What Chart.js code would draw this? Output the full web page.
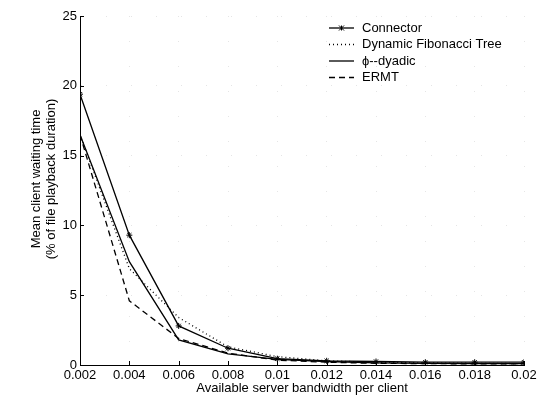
<!DOCTYPE html>
<html lang="en">
<head>
  <meta charset="UTF-8" />
  <title>Mean client waiting time</title>
  <script src="https://cdn.jsdelivr.net/npm/chart.js"></script>
  <style>
    body { margin: 0; background: #fff; }
    .wrap { width: 540px; height: 396px; position: relative; }
  </style>
</head>
<body>
<div class="wrap"><canvas id="chart"></canvas></div>
<script>
  // bandwidth per client (x) and waiting time in % of playback (y)
  const bandwidth = [0.002, 0.004, 0.006, 0.008, 0.01, 0.012, 0.014, 0.016, 0.018, 0.02];
  const connector = [19.4, 9.3, 2.8, 1.2, 0.45, 0.3, 0.25, 0.2, 0.2, 0.2];
  const fibonacci = [16.5, 6.9, 3.4, 1.3, 0.6, 0.3, 0.2, 0.15, 0.12, 0.1];
  const dyadic    = [16.5, 7.4, 1.8, 0.8, 0.4, 0.25, 0.15, 0.12, 0.1, 0.1];
  const ermt      = [16.5, 4.6, 1.9, 0.85, 0.35, 0.2, 0.12, 0.1, 0.08, 0.08];
  const yTicks = [0, 5, 10, 15, 20, 25];
  const yTitle = ['Mean client waiting time', '(% of file playback duration)'];

  const font = { family: '"Liberation Sans", Arial, sans-serif', size: 13 };
  const pts = arr => arr.map((v, i) => ({ x: bandwidth[i], y: v }));

  const series = [
    { label: 'Connector', data: pts(connector), borderDash: [], pointStyle: 'star', pointRadius: 3 },
    { label: 'Dynamic Fibonacci Tree', data: pts(fibonacci), borderDash: [1, 3], pointRadius: 0 },
    { label: '\u03d5--dyadic', data: pts(dyadic), borderDash: [], pointRadius: 0 },
    { label: 'ERMT', data: pts(ermt), borderDash: [6, 4], pointRadius: 0 }
  ];

  // inward tick marks + y title placed a bit above centre, like the original
  const tickMarks = {
    id: 'tickMarks',
    afterDraw(chart) {
      const { ctx, chartArea: a, scales: { x, y } } = chart;
      ctx.save();
      ctx.strokeStyle = '#000';
      ctx.lineWidth = 1;
      ctx.beginPath();
      bandwidth.forEach(v => {
        const px = Math.round(x.getPixelForValue(v)) + 0.5;
        ctx.moveTo(px, a.bottom); ctx.lineTo(px, a.bottom - 4);
      });
      yTicks.forEach(v => {
        const py = Math.round(y.getPixelForValue(v)) + 0.5;
        ctx.moveTo(a.left, py); ctx.lineTo(a.left + 4, py);
      });
      ctx.stroke();

      ctx.translate(36, 179);
      ctx.rotate(-Math.PI / 2);
      ctx.font = `${font.size}px ${font.family}`;
      ctx.fillStyle = '#000';
      ctx.textAlign = 'center';
      ctx.textBaseline = 'middle';
      yTitle.forEach((t, i) => ctx.fillText(t, 0, i * 15));
      ctx.restore();
    }
  };

  // legend drawn inside the plot, top right
  const innerLegend = {
    id: 'innerLegend',
    afterDraw(chart) {
      const ctx = chart.ctx;
      ctx.save();
      ctx.font = `${font.size}px ${font.family}`;
      ctx.textBaseline = 'middle';
      ctx.fillStyle = '#000';
      chart.data.datasets.forEach((ds, i) => {
        const yy = 28 + i * 16.5;
        ctx.strokeStyle = '#000';
        ctx.lineWidth = 1.3;
        ctx.setLineDash(ds.borderDash || []);
        ctx.beginPath();
        ctx.moveTo(329, yy); ctx.lineTo(354, yy);
        ctx.stroke();
        ctx.setLineDash([]);
        if (ds.pointStyle === 'star') {
          const r = 2.5, cx = 341.5;
          ctx.lineWidth = 1;
          ctx.beginPath();
          ctx.moveTo(cx - r, yy - r); ctx.lineTo(cx + r, yy + r);
          ctx.moveTo(cx - r, yy + r); ctx.lineTo(cx + r, yy - r);
          ctx.moveTo(cx, yy - r); ctx.lineTo(cx, yy + r);
          ctx.stroke();
        }
        ctx.fillText(ds.label, 362, yy);
      });
      ctx.restore();
    }
  };

  new Chart(document.getElementById('chart'), {
    type: 'line',
    data: {
      datasets: series.map(s => ({
        ...s,
        borderColor: '#000',
        backgroundColor: '#000',
        borderWidth: 1.3,
        pointBorderWidth: 1,
        fill: false,
        tension: 0
      }))
    },
    options: {
      responsive: true,
      maintainAspectRatio: false,
      animation: false,
      layout: { padding: { top: 16, right: 16, left: 0, bottom: 0 } },
      plugins: { legend: { display: false }, tooltip: { enabled: false } },
      scales: {
        x: {
          type: 'linear',
          min: 0.002,
          max: 0.02,
          afterBuildTicks: s => { s.ticks = bandwidth.map(v => ({ value: v })); },
          afterFit: s => { s.height = 31; },
          grid: { color: 'rgba(0,0,0,0.1)', drawTicks: false },
          border: { color: '#000', width: 1, dash: [1, 24] },
          ticks: {
            color: '#000', font, padding: 3, maxRotation: 0, autoSkip: false,
            callback: v => String(+v.toFixed(3))
          },
          title: {
            display: true, text: 'Available server bandwidth per client',
            color: '#000', font: { ...font, lineHeight: 1.15 }, padding: { top: 0, bottom: 0 }
          }
        },
        y: {
          min: 0,
          max: 25,
          afterBuildTicks: s => { s.ticks = yTicks.map(v => ({ value: v })); },
          afterFit: s => { s.width = 80; },
          grid: { color: 'rgba(0,0,0,0.1)', drawTicks: false },
          border: { color: '#000', width: 1, dash: [1, 24] },
          ticks: { color: '#000', font, padding: 3 }
        }
      }
    },
    plugins: [tickMarks, innerLegend]
  });
</script>
</body>
</html>
